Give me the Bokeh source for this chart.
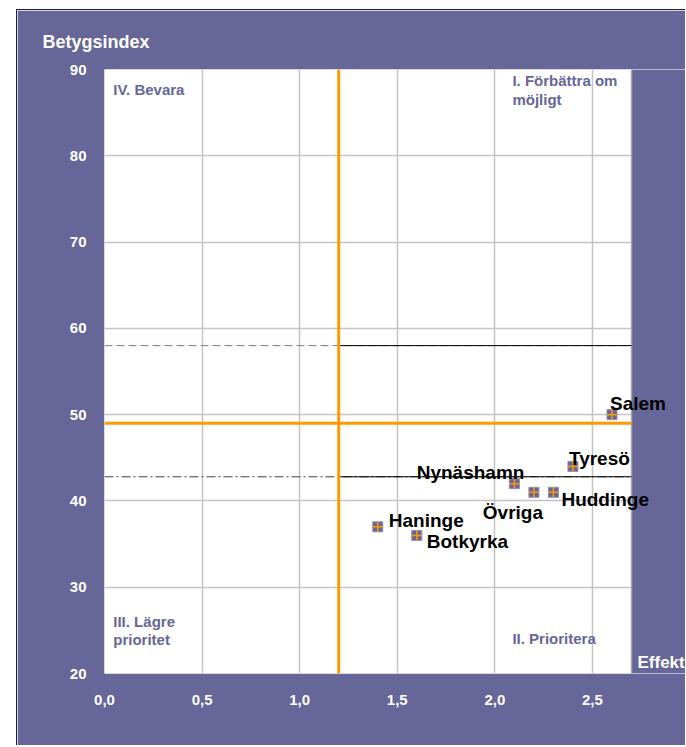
from bokeh.plotting import figure
from bokeh.models import Label, Range1d, FixedTicker, Spacer, BoxAnnotation
from bokeh.layouts import row, column
from bokeh.embed import file_html
from bokeh.resources import INLINE

# ---- data ----
names = ["Salem", "Tyresö", "Nynäshamn", "Övriga", "Huddinge", "Haninge", "Botkyrka"]
effekt = [2.6, 2.4, 2.1, 2.2, 2.3, 1.4, 1.6]
betyg = [50, 44, 42, 41, 41, 37, 36]

x_ticks = [0.0, 0.5, 1.0, 1.5, 2.0, 2.5]
x_tick_labels = ["0,0", "0,5", "1,0", "1,5", "2,0", "2,5"]
y_ticks = [20, 30, 40, 50, 60, 70, 80, 90]

mean_effekt = 1.2
mean_betyg = 49
upper_ref = 58
lower_ref = 42.8

quadrants = ["IV. Bevara", "I. Förbättra om\nmöjligt", "III. Lägre\nprioritet", "II. Prioritera"]

# ---- style / layout ----
PANEL = "#666699"
ORANGE = "#ff9900"
FONT = "Liberation Sans"

X0, X1, Y0, Y1 = 0, 2.7, 20, 90
BL, BT, BB = 87, 59, 73
W, H = 669, 736
PLOT_W = 527                       # pixel width of the white plot area
XR = X1 * (W - BL) / PLOT_W        # frame continues over the purple margin on the right

# label offsets (pixels) relative to each marker: (dx, dy, align); dy positive = up
label_pos = {
    "Salem": (-2, 11, "left"),
    "Tyresö": (-4, 8, "left"),
    "Nynäshamn": (10, 11, "right"),
    "Övriga": (-21, -20, "center"),
    "Huddinge": (8, -7, "left"),
    "Haninge": (11, 6, "left"),
    "Botkyrka": (10, -6, "left"),
}

p = figure(width=W, height=H, output_backend="svg", toolbar_location=None,
           x_range=Range1d(X0, XR), y_range=Range1d(Y0, Y1))
p.min_border_left = BL
p.min_border_right = 0
p.min_border_top = BT
p.min_border_bottom = BB
p.border_fill_color = PANEL
p.background_fill_color = "white"
p.outline_line_color = None
p.styles = {"border-left": "1px solid #1e1e40", "border-top": "1px solid #1e1e40"}

# title used as the y-axis caption at the top left
p.title.text = "Betygsindex"
p.title.align = "left"
p.title.offset = -62
p.title.standoff = 35
p.title.text_color = "white"
p.title.text_font = FONT
p.title.text_font_style = "bold"
p.title.text_font_size = "18px"

p.xaxis.ticker = FixedTicker(ticks=x_ticks)
p.xaxis.major_label_overrides = {t: l for t, l in zip(x_ticks, x_tick_labels)}
p.yaxis.ticker = FixedTicker(ticks=y_ticks)
for ax in (p.xaxis, p.yaxis):
    ax.axis_line_color = None
    ax.major_tick_line_color = None
    ax.minor_tick_line_color = None
    ax.major_label_text_color = "white"
    ax.major_label_text_font = FONT
    ax.major_label_text_font_style = "bold"
    ax.major_label_text_font_size = "15px"
p.yaxis.major_label_standoff = 12
p.xaxis.major_label_standoff = 15

p.grid.grid_line_color = "#c4c4c4"
p.grid.grid_line_width = 1.5

# purple margin to the right of the plot area (inside the frame)
p.add_layout(BoxAnnotation(left=X1, fill_color=PANEL, fill_alpha=1, line_color=None, level="underlay"))

# right edge of the plot area
p.line([X1, X1], [Y0, Y1], line_color="#a8a8a8", line_width=1.5)

# reference lines
p.line([X0, X1], [upper_ref, upper_ref], line_color="#7777a0", line_width=1, line_dash="8 4")
p.line([mean_effekt, X1], [upper_ref, upper_ref], line_color="black", line_width=1)
p.line([X0, X1], [lower_ref, lower_ref], line_color="#444444", line_width=1, line_dash="9 3 2 3")
p.line([mean_effekt, X1], [lower_ref, lower_ref], line_color="black", line_width=1)

# quadrant dividers (mean lines)
p.line([mean_effekt, mean_effekt], [Y0, Y1], line_color=ORANGE, line_width=3)
p.line([X0, X1], [mean_betyg, mean_betyg], line_color=ORANGE, line_width=3)

# points
p.scatter(effekt, betyg, marker="square", size=10, fill_color=PANEL, line_color="#8f8fb5", line_width=1)
p.scatter(effekt, betyg, marker="cross", size=10, line_color=ORANGE, line_width=1.5)

for n, xv, yv in zip(names, effekt, betyg):
    dx, dy, al = label_pos[n]
    p.add_layout(Label(x=xv, y=yv, x_offset=dx, y_offset=dy, text=n, text_align=al,
                       text_baseline="alphabetic", text_font=FONT, text_font_style="bold",
                       text_font_size="19px", text_color="black"))

quad_xy = [(0.045, 87.7), (2.09, 87.6), (0.045, 25.0), (2.09, 24.1)]
for t, (qx, qy) in zip(quadrants, quad_xy):
    p.add_layout(Label(x=qx, y=qy, text=t, text_align="left", text_baseline="alphabetic",
                       text_font=FONT, text_font_style="bold", text_font_size="15px",
                       text_color=PANEL, text_line_height=1.1))

# x-axis caption to the right of the plot area
p.add_layout(Label(x=X1, y=Y0, x_offset=6, y_offset=11, text="Effekt", text_align="left",
                   text_baseline="alphabetic", text_font=FONT, text_font_style="bold",
                   text_font_size="17px", text_color="white"))

layout = column(Spacer(height=9), row(Spacer(width=16), p))
open("out.html", "w").write(file_html(layout, INLINE))
